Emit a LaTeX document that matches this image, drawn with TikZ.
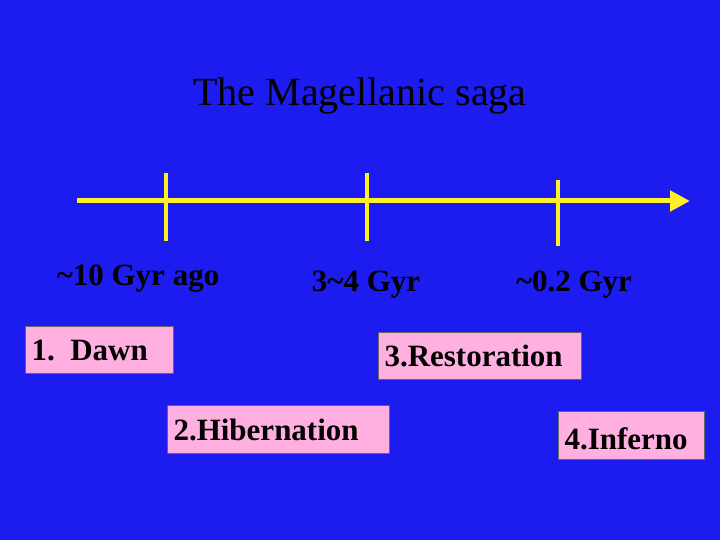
\documentclass[tikz,border=0pt]{standalone}
\usepackage{fontspec}
\setmainfont{Liberation Serif}
\usetikzlibrary{arrows.meta}
\definecolor{bg}{RGB}{28,28,240}
\definecolor{yel}{RGB}{255,240,40}
\definecolor{pinkb}{RGB}{255,176,224}
\tikzset{
  lbl/.style={font=\fontsize{31}{34}\selectfont\bfseries, text=black},
  pbox/.style={draw=black!60, line width=1pt, fill=pinkb, font=\fontsize{31}{34}\selectfont\bfseries, text=black, anchor=north west, inner xsep=6pt, inner ysep=0pt, align=left, text depth=0pt},
  tick/.style={draw=yel, line width=4.5pt}
}
\begin{document}
\begin{tikzpicture}[x=1pt,y=-1pt]
\fill[bg] (0,0) rectangle (720,540);
\useasboundingbox (0,0) rectangle (720,540);
\node[font=\fontsize{40}{44}\selectfont, text=black] (title) at (360,96) {The Magellanic saga};
\coordinate (s) at (77,201);
\coordinate (e) at (690,201);
\draw[yel, line width=5pt, -{Triangle[length=20pt,width=20pt]}] (s) -- (e);
\coordinate (t1a) at (166,173); \coordinate (t1b) at (166,241);
\coordinate (t2a) at (367,173); \coordinate (t2b) at (367,241);
\coordinate (t3a) at (558,180); \coordinate (t3b) at (558,246);
\draw[tick] (t1a) -- (t1b);
\draw[tick] (t2a) -- (t2b);
\draw[tick] (t3a) -- (t3b);
\node[lbl] (l1) at (138,279) {\textasciitilde10 Gyr ago};
\node[lbl] (l2) at (366,285) {3\textasciitilde4 Gyr};
\node[lbl] (l3) at (574,285) {\textasciitilde0.2 Gyr};
\node[pbox, minimum width=148pt, minimum height=47pt, text width=136pt] (b1) at (25,326) {1. Dawn};
\node[pbox, minimum width=203pt, minimum height=47pt, text width=191pt] (b3) at (378,332) {3.Restoration};
\node[pbox, minimum width=222pt, minimum height=48pt, text width=210pt] (b2) at (167,405) {2.Hibernation};
\node[pbox, minimum width=146pt, minimum height=48pt, text width=134pt] (b4) at (558,411) {\raisebox{-6pt}{4.Inferno}};
\end{tikzpicture}
\end{document}
